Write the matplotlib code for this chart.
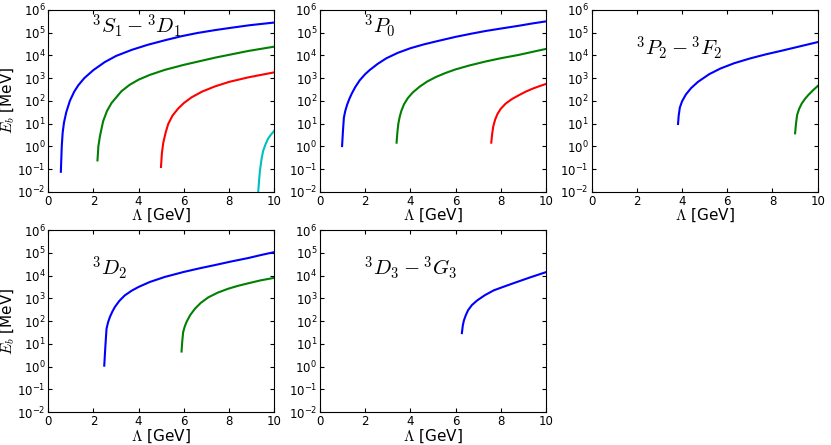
import matplotlib
matplotlib.use("Agg")
import numpy as np
import matplotlib.pyplot as plt
from matplotlib.ticker import LogLocator, NullLocator

plt.rcParams.update({
    "mathtext.fontset": "cm",
    "font.family": "DejaVu Sans",
    "font.size": 10,
    "axes.unicode_minus": False,
})

# values, given as log10(E_b / MeV)
# 3S1-3D1
lam_s1_b = [0.56, 0.60, 0.64, 0.70, 0.80, 0.96, 1.15, 1.33, 1.6, 2.0, 2.5, 3.0, 3.7, 4.4, 5.2, 5.9, 6.6, 7.4, 8.1, 8.9, 10.0]
log_s1_b = [-1.12, 0.0, 0.6, 1.05, 1.5, 2.0, 2.4, 2.68, 3.0, 3.35, 3.7, 3.97, 4.24, 4.46, 4.67, 4.84, 4.98, 5.11, 5.21, 5.32, 5.44]
lam_s1_g = [2.18, 2.22, 2.29, 2.43, 2.6, 2.8, 3.24, 3.6, 4.0, 4.5, 5.16, 6.0, 6.7, 7.4, 8.1, 8.85, 10.0]
log_s1_g = [-0.62, 0.0, 0.45, 1.1, 1.55, 1.9, 2.42, 2.7, 2.93, 3.14, 3.36, 3.58, 3.74, 3.9, 4.04, 4.19, 4.38]
lam_s1_r = [4.99, 5.03, 5.09, 5.2, 5.31, 5.5, 5.75, 6.0, 6.34, 6.8, 7.37, 8.0, 8.85, 10.0]
log_s1_r = [-0.91, -0.3, 0.15, 0.62, 0.98, 1.35, 1.66, 1.9, 2.15, 2.4, 2.63, 2.83, 3.03, 3.25]
lam_s1_c = [9.25, 9.29, 9.33, 9.37, 9.44, 9.51, 9.62, 9.73, 9.86, 10.0]
log_s1_c = [-2.6, -2.03, -1.5, -1.06, -0.55, -0.2, 0.1, 0.34, 0.52, 0.68]

# 3P0
lam_p0_b = [0.98, 1.02, 1.06, 1.12, 1.2, 1.3, 1.4, 1.56, 1.76, 2.0, 2.2, 2.55, 2.94, 3.45, 4.0, 4.6, 5.14, 6.0, 6.7, 7.34, 8.1, 8.81, 9.4, 10.0]
log_p0_b = [0.01, 0.7, 1.26, 1.55, 1.82, 2.08, 2.3, 2.6, 2.9, 3.17, 3.35, 3.62, 3.87, 4.11, 4.31, 4.48, 4.61, 4.81, 4.95, 5.07, 5.19, 5.3, 5.4, 5.49]
lam_p0_g = [3.39, 3.43, 3.47, 3.53, 3.6, 3.72, 3.89, 4.1, 4.41, 4.75, 5.14, 5.55, 6.0, 6.6, 7.34, 8.0, 8.81, 9.4, 10.0]
log_p0_g = [0.16, 0.65, 1.0, 1.3, 1.55, 1.85, 2.12, 2.36, 2.62, 2.85, 3.05, 3.22, 3.38, 3.55, 3.73, 3.87, 4.02, 4.15, 4.28]
lam_p0_r = [7.58, 7.62, 7.67, 7.75, 7.86, 8.0, 8.22, 8.5, 8.81, 9.1, 9.4, 9.7, 10.0]
log_p0_r = [0.16, 0.55, 0.88, 1.17, 1.43, 1.65, 1.88, 2.08, 2.25, 2.4, 2.53, 2.64, 2.74]

# 3P2-3F2
lam_p2_b = [3.82, 3.85, 3.9, 4.0, 4.17, 4.4, 4.7, 5.2, 5.7, 6.3, 7.0, 7.7, 8.4, 9.2, 10.0]
log_p2_b = [0.98, 1.35, 1.7, 1.98, 2.28, 2.56, 2.83, 3.17, 3.42, 3.65, 3.86, 4.04, 4.2, 4.39, 4.58]
lam_p2_g = [9.0, 9.04, 9.09, 9.18, 9.3, 9.45, 9.59, 9.8, 10.0]
log_p2_g = [0.57, 1.0, 1.38, 1.65, 1.89, 2.1, 2.26, 2.47, 2.65]

# 3D2
lam_d2_b = [2.48, 2.53, 2.58, 2.65, 2.73, 2.84, 2.95, 3.15, 3.39, 3.7, 4.0, 4.5, 5.16, 6.0, 6.7, 7.37, 8.1, 8.85, 9.4, 10.0]
log_d2_b = [0.04, 0.9, 1.66, 1.95, 2.18, 2.42, 2.62, 2.89, 3.13, 3.34, 3.5, 3.72, 3.94, 4.16, 4.32, 4.46, 4.62, 4.77, 4.9, 5.03]
lam_d2_g = [5.9, 5.93, 5.97, 6.04, 6.12, 6.28, 6.49, 6.75, 7.08, 7.5, 7.96, 8.4, 8.85, 9.4, 10.0]
log_d2_g = [0.66, 1.1, 1.51, 1.76, 1.96, 2.26, 2.54, 2.8, 3.04, 3.25, 3.42, 3.55, 3.66, 3.79, 3.9]

# 3D3-3G3
lam_d3_b = [6.28, 6.32, 6.37, 6.45, 6.55, 6.72, 6.96, 7.3, 7.69, 8.1, 8.58, 9.3, 10.0]
log_d3_b = [1.47, 1.8, 2.03, 2.25, 2.47, 2.7, 2.91, 3.14, 3.35, 3.5, 3.67, 3.92, 4.15]

panels = [
    (r"$^3S_1-{}^3D_1$", 0.91, [(lam_s1_b, log_s1_b, "b"), (lam_s1_g, log_s1_g, "g"),
                                (lam_s1_r, log_s1_r, "r"), (lam_s1_c, log_s1_c, "c")]),
    (r"$^3P_0$", 0.91, [(lam_p0_b, log_p0_b, "b"), (lam_p0_g, log_p0_g, "g"), (lam_p0_r, log_p0_r, "r")]),
    (r"$^3P_2-{}^3F_2$", 0.79, [(lam_p2_b, log_p2_b, "b"), (lam_p2_g, log_p2_g, "g")]),
    (r"$^3D_2$", 0.79, [(lam_d2_b, log_d2_b, "b"), (lam_d2_g, log_d2_g, "g")]),
    (r"$^3D_3-{}^3G_3$", 0.79, [(lam_d3_b, log_d3_b, "b")]),
]

colors = {"b": (0, 0, 1), "g": (0, 0.5, 0), "r": (1, 0, 0), "c": (0, 0.75, 0.75)}

fig = plt.figure(figsize=(8.31, 4.45), dpi=100)
lefts = [0.058, 0.385, 0.712]
bottoms = [0.569, 0.074]
w, h = 0.272, 0.409

for i, (label, ty, curves) in enumerate(panels):
    row, col = divmod(i, 3)
    ax = fig.add_axes([lefts[col], bottoms[row], w, h])
    for lam, logE, c in curves:
        ax.plot(lam, 10 ** np.array(logE), color=colors[c], lw=1.5)
    ax.set_yscale("log")
    ax.set_xlim(0, 10)
    ax.set_ylim(1e-2, 1e6)
    ax.yaxis.set_major_locator(LogLocator(base=10, numticks=20))
    ax.yaxis.set_minor_locator(NullLocator())
    ax.set_xticks([0, 2, 4, 6, 8, 10])
    ax.tick_params(direction="in", top=True, right=True, length=3, labelsize=8.5, pad=2)
    ax.set_xlabel(r"$\Lambda$ [GeV]", fontsize=11, labelpad=-0.5)
    if col == 0:
        ax.set_ylabel(r"$E_b$ [MeV]", fontsize=11, labelpad=0)
    ax.text(0.195, ty, label, transform=ax.transAxes, fontsize=15, va="center", ha="left")
    for s in ax.spines.values():
        s.set_linewidth(0.8)

fig.savefig("out.png", dpi=100)
